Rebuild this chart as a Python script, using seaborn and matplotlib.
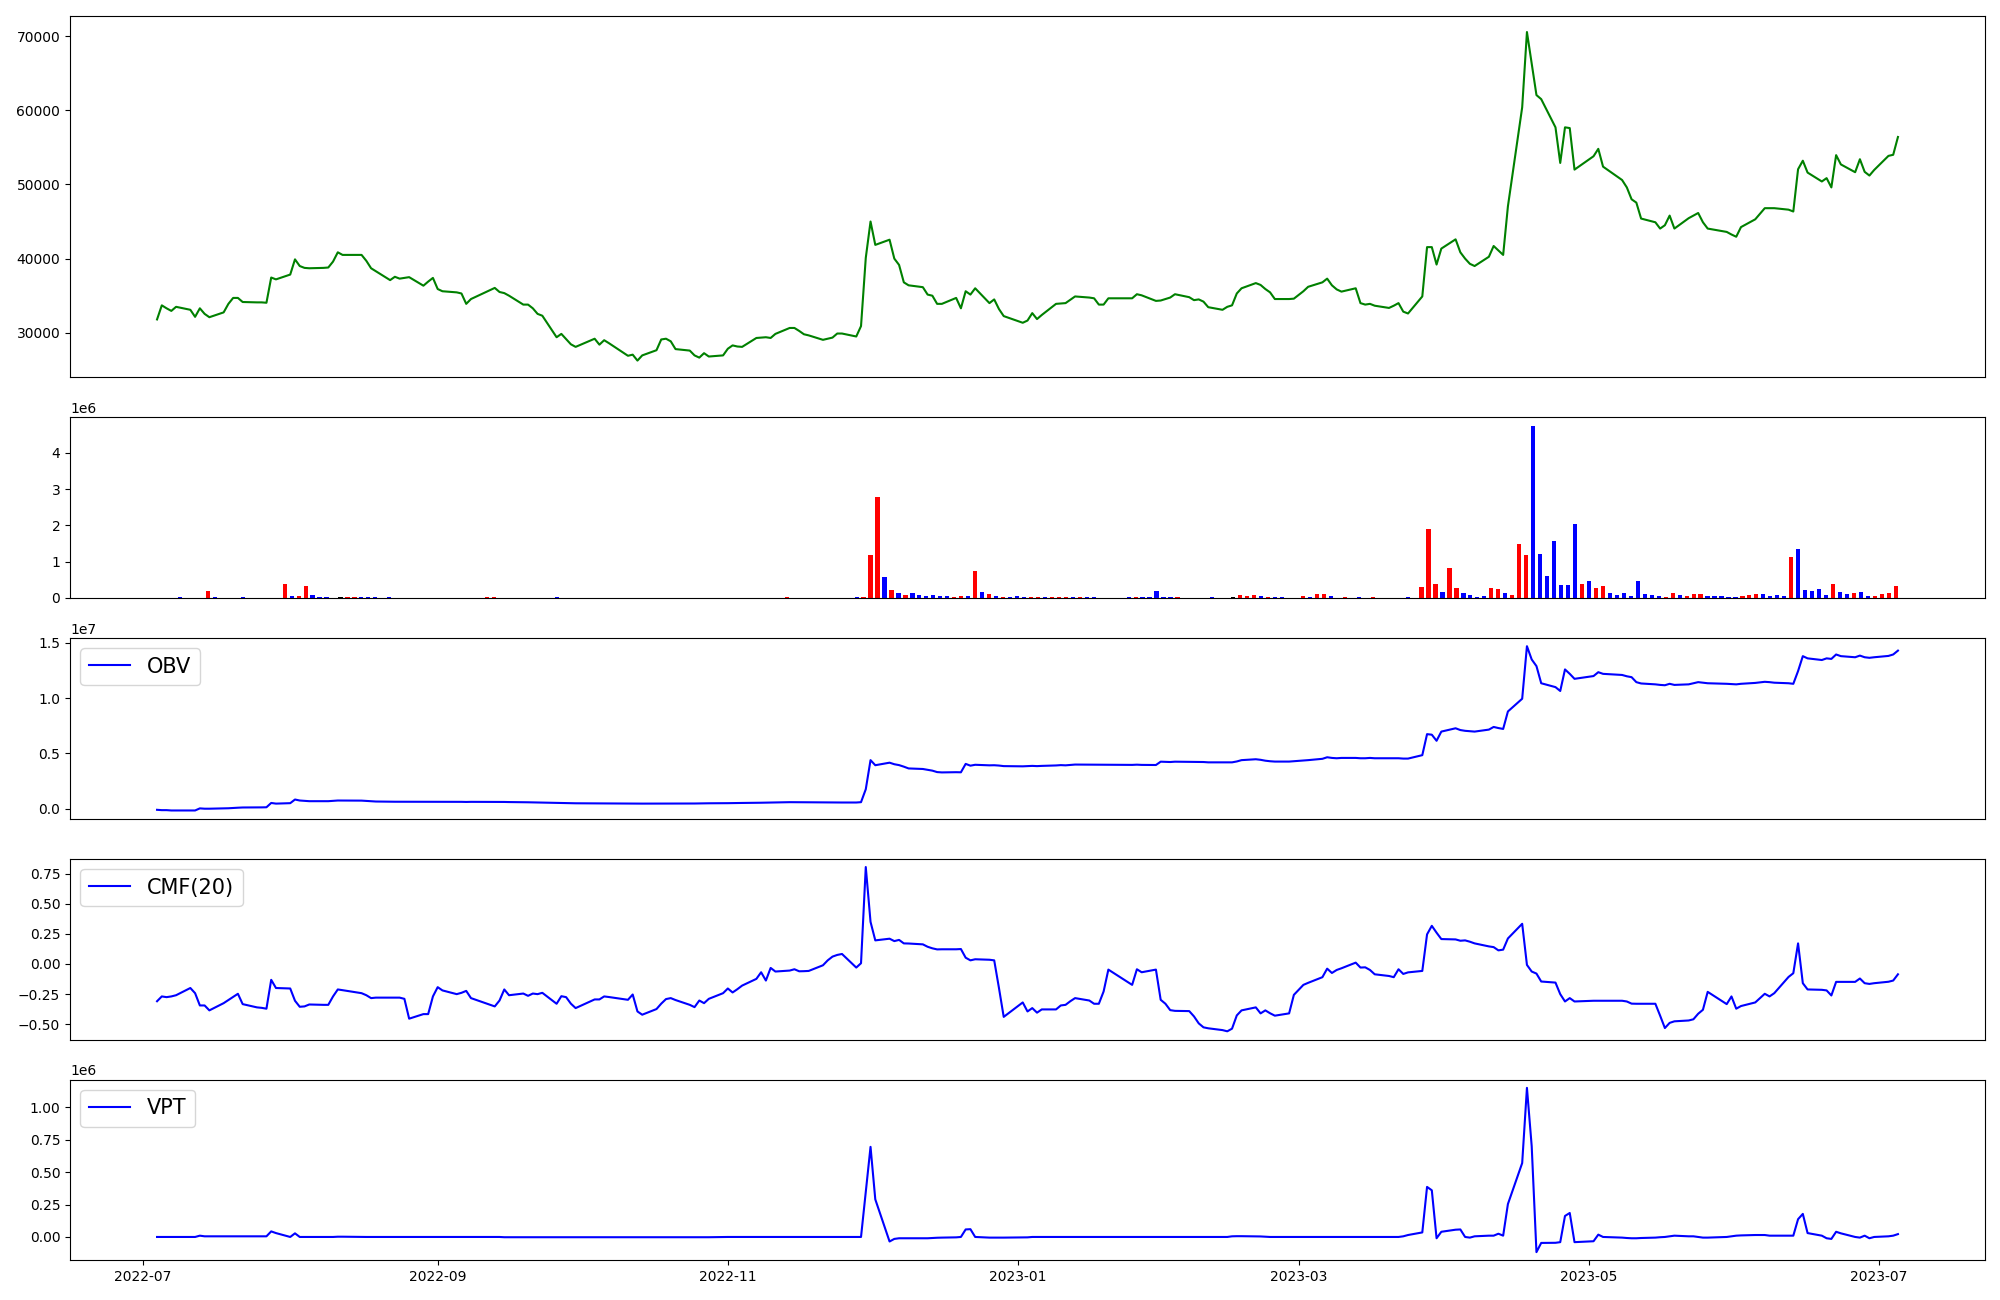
import matplotlib
matplotlib.use("Agg")
import matplotlib.pyplot as plt
from matplotlib.ticker import MultipleLocator
import seaborn as sns
import numpy as np
import pandas as pd

# KRX trading days, 2022-07-04 .. 2023-07-05
holidays = ["2022-08-15", "2022-09-09", "2022-09-12", "2022-10-03", "2022-10-10",
            "2022-12-30", "2023-01-23", "2023-01-24", "2023-03-01", "2023-05-01",
            "2023-05-05", "2023-05-29", "2023-06-06"]

close = [
    31800, 33700, 33300, 32950, 33500, 33100, 32150, 33300, 32550, 32100,
    32750, 33900, 34700, 34700, 34150, 34100, 34100, 34050, 37450, 37200,
    37850, 39900, 39000, 38750, 38700, 38750, 38800, 39600, 40850, 40500,
    40500, 39700, 38700, 38300, 37100, 37550, 37300, 37400, 37500, 36350,
    36900, 37400, 35900, 35600, 35450, 35300, 33900, 34550, 36050, 35500,
    35350, 35000, 33800, 33800, 33300, 32550, 32300, 29400, 29850, 29150,
    28450, 28100, 29200, 28400, 29000, 28600, 26900, 27050, 26250, 26950,
    27650, 29100, 29200, 28850, 27800, 27600, 26950, 26650, 27250, 26800,
    26950, 27850, 28300, 28150, 28100, 29300, 29350, 29400, 29300, 29850,
    30650, 30650, 30250, 29800, 29650, 29050, 29200, 29350, 29900, 29900,
    29500, 30900, 40100, 45000, 41850, 42550, 40000, 39150, 36800, 36400,
    36150, 35150, 35000, 33900, 33900, 34700, 33300, 35600, 35150, 36000,
    34000, 34500, 33200, 32250, 31350, 31650, 32650, 31850, 32400, 33900,
    33950, 34000, 34450, 34900, 34750, 34650, 33800, 33800, 34650, 34650,
    35200, 35050, 34300, 34350, 34550, 34750, 35200, 34800, 34400, 34500,
    34200, 33450, 33100, 33500, 33700, 35300, 36000, 36700, 36450, 35900,
    35450, 34550, 34550, 34600, 35600, 36200, 36800, 37300, 36400, 35850,
    35550, 36000, 34000, 33800, 33900, 33650, 33350, 33650, 34000, 32850,
    32600, 34900, 41550, 41550, 39200, 41350, 42600, 40850, 40000, 39300,
    39000, 40250, 41700, 41100, 40500, 47050, 60400, 70550, 66300, 62050,
    61500, 57700, 52900, 57700, 57600, 52000, 53800, 54800, 52400, 50600,
    49600, 48000, 47550, 45400, 44900, 44050, 44500, 45800, 44050, 45450,
    45800, 46150, 44900, 44050, 43600, 43250, 42950, 44250, 45300, 46800,
    46800, 46800, 46600, 46350, 52050, 53200, 51600, 50400, 50850, 49600,
    53950, 52700, 51650, 53400, 51700, 51200, 51950, 53850, 54000, 56400,
]

# volume in millions of shares
volume_m = [
    0, 0, 0, 0.025, 0, 0, 0, 0.19, 0.025, 0,
    0, 0, 0.025, 0, 0, 0, 0, 0, 0.39, 0.055,
    0.055, 0.33, 0.09, 0.025, 0.025, 0, 0.025, 0.025, 0.025, 0.025,
    0.025, 0.025, 0, 0.025, 0, 0, 0, 0, 0, 0,
    0, 0, 0, 0, 0, 0, 0, 0.025, 0.025, 0,
    0, 0, 0, 0, 0, 0, 0, 0.025, 0, 0,
    0, 0, 0, 0, 0, 0, 0, 0, 0, 0,
    0, 0, 0, 0, 0, 0, 0, 0, 0, 0,
    0, 0, 0, 0, 0, 0, 0, 0, 0, 0,
    0.025, 0, 0, 0, 0, 0, 0, 0, 0, 0,
    0.025, 0.025, 1.17, 2.78, 0.58, 0.22, 0.14, 0.08, 0.14, 0.08,
    0.055, 0.08, 0.055, 0.055, 0.025, 0.055, 0.055, 0.75, 0.17, 0.11,
    0.055, 0.025, 0.025, 0.055, 0.025, 0.025, 0.025, 0.025, 0.025, 0.025,
    0.025, 0.025, 0.025, 0.025, 0.025, 0, 0, 0, 0, 0.025,
    0.025, 0.025, 0.025, 0.19, 0.025, 0.025, 0.025, 0, 0, 0,
    0, 0.025, 0, 0, 0.025, 0.08, 0.055, 0.08, 0.055, 0.025,
    0.025, 0.025, 0, 0, 0.055, 0.025, 0.11, 0.11, 0.055, 0,
    0.025, 0, 0.025, 0, 0.025, 0, 0, 0, 0, 0.025,
    0, 0.31, 1.89, 0.39, 0.17, 0.83, 0.28, 0.14, 0.08, 0.025,
    0.055, 0.28, 0.25, 0.14, 0.08, 1.5, 1.19, 4.75, 1.22, 0.61,
    1.58, 0.36, 0.36, 2.03, 0.39, 0.47, 0.28, 0.33, 0.14, 0.08,
    0.14, 0.055, 0.47, 0.11, 0.08, 0.055, 0.025, 0.14, 0.08, 0.055,
    0.11, 0.11, 0.055, 0.055, 0.055, 0.025, 0.025, 0.055, 0.08, 0.11,
    0.11, 0.055, 0.08, 0.055, 1.14, 1.36, 0.22, 0.19, 0.25, 0.08,
    0.39, 0.17, 0.11, 0.14, 0.17, 0.055, 0.055, 0.11, 0.14, 0.33,
]

# candle direction: 1 up (red), -1 down (blue), 0 flat (black)
bar_dir = [
    0, 0, 0, -1, 0, 0, 0, 1, -1, 0,
    0, 0, -1, 0, 0, 0, 0, 0, 1, -1,
    1, 1, -1, -1, -1, 0, 0, 1, 1, -1,
    -1, -1, 0, -1, 0, 0, 0, 0, 0, 0,
    0, 0, 0, 0, 0, 0, 0, 1, 1, 0,
    0, 0, 0, 0, 0, 0, 0, -1, 0, 0,
    0, 0, 0, 0, 0, 0, 0, 0, 0, 0,
    0, 0, 0, 0, 0, 0, 0, 0, 0, 0,
    0, 0, 0, 0, 0, 0, 0, 0, 0, 0,
    1, 0, 0, 0, 0, 0, 0, 0, 0, 0,
    -1, 1, 1, 1, -1, 1, -1, 1, -1, -1,
    -1, -1, -1, -1, 1, 1, -1, 1, -1, 1,
    -1, 1, -1, -1, -1, 1, 1, -1, 1, 1,
    1, -1, 1, -1, -1, 0, 0, 0, 0, -1,
    1, -1, -1, -1, -1, -1, 1, 0, 0, 0,
    0, -1, 0, 0, 0, 1, 1, 1, -1, 1,
    -1, -1, 0, 0, 1, -1, 1, 1, -1, 0,
    1, 0, -1, 0, 1, 0, 0, 0, 0, -1,
    0, 1, 1, 1, -1, 1, 1, -1, -1, -1,
    -1, 1, 1, -1, 1, 1, 1, -1, -1, -1,
    -1, -1, -1, -1, 1, -1, 1, 1, -1, -1,
    -1, -1, -1, -1, -1, -1, 1, 1, -1, 1,
    1, 1, -1, -1, -1, -1, -1, 1, 1, 1,
    -1, -1, -1, -1, 1, -1, -1, -1, -1, -1,
    1, -1, -1, 1, -1, -1, 1, 1, 1, 1,
]

# on-balance volume, millions
obv_m = [
    -0.09, -0.12, -0.12, -0.15, -0.15, -0.15, -0.15, 0.04, 0.01, 0.01,
    0.04, 0.05, 0.08, 0.10, 0.12, 0.12, 0.13, 0.14, 0.53, 0.47,
    0.51, 0.84, 0.75, 0.72, 0.69, 0.69, 0.69, 0.72, 0.75, 0.75,
    0.74, 0.71, 0.69, 0.66, 0.64, 0.64, 0.64, 0.64, 0.63, 0.63,
    0.63, 0.63, 0.63, 0.63, 0.63, 0.63, 0.62, 0.63, 0.63, 0.62,
    0.62, 0.61, 0.60, 0.59, 0.58, 0.57, 0.56, 0.53, 0.52, 0.51,
    0.50, 0.50, 0.49, 0.49, 0.48, 0.48, 0.48, 0.48, 0.47, 0.47,
    0.47, 0.47, 0.48, 0.48, 0.48, 0.48, 0.48, 0.49, 0.50, 0.50,
    0.50, 0.51, 0.52, 0.52, 0.53, 0.54, 0.55, 0.56, 0.57, 0.57,
    0.60, 0.60, 0.60, 0.59, 0.59, 0.58, 0.58, 0.58, 0.57, 0.57,
    0.57, 0.60, 1.77, 4.40, 3.94, 4.17, 4.03, 3.95, 3.81, 3.65,
    3.60, 3.52, 3.45, 3.32, 3.29, 3.31, 3.30, 4.06, 3.90, 3.98,
    3.93, 3.94, 3.91, 3.86, 3.84, 3.86, 3.88, 3.86, 3.88, 3.92,
    3.95, 3.93, 3.97, 4.00, 3.99, 3.99, 3.98, 3.98, 3.98, 3.97,
    3.99, 3.97, 3.96, 4.26, 4.24, 4.23, 4.26, 4.25, 4.25, 4.24,
    4.23, 4.20, 4.20, 4.20, 4.20, 4.28, 4.40, 4.48, 4.43, 4.35,
    4.30, 4.27, 4.27, 4.30, 4.36, 4.40, 4.52, 4.66, 4.60, 4.57,
    4.60, 4.60, 4.57, 4.57, 4.60, 4.57, 4.57, 4.57, 4.57, 4.54,
    4.54, 4.85, 6.75, 6.70, 6.15, 6.98, 7.28, 7.12, 7.05, 7.01,
    6.98, 7.16, 7.40, 7.30, 7.22, 8.80, 9.95, 14.70, 13.50, 12.90,
    11.35, 11.00, 10.65, 12.60, 12.20, 11.75, 12.00, 12.35, 12.20, 12.10,
    11.98, 11.90, 11.45, 11.33, 11.25, 11.20, 11.17, 11.30, 11.20, 11.25,
    11.35, 11.45, 11.40, 11.35, 11.30, 11.27, 11.25, 11.30, 11.38, 11.48,
    11.45, 11.40, 11.35, 11.30, 12.45, 13.80, 13.60, 13.45, 13.60, 13.55,
    13.95, 13.80, 13.70, 13.85, 13.70, 13.65, 13.70, 13.82, 13.95, 14.30,
]

cmf20 = [
    -0.310, -0.270, -0.276, -0.270, -0.260, -0.200, -0.243, -0.345, -0.345, -0.386,
    -0.326, -0.300, -0.275, -0.248, -0.334, -0.361, -0.365, -0.372, -0.132, -0.200,
    -0.204, -0.306, -0.356, -0.353, -0.337, -0.340, -0.340, -0.270, -0.212, -0.218,
    -0.243, -0.260, -0.284, -0.280, -0.280, -0.280, -0.280, -0.290, -0.455, -0.417,
    -0.417, -0.270, -0.193, -0.220, -0.251, -0.240, -0.224, -0.284, -0.353, -0.304,
    -0.212, -0.260, -0.246, -0.265, -0.246, -0.251, -0.240, -0.331, -0.268, -0.276,
    -0.330, -0.367, -0.295, -0.295, -0.270, -0.275, -0.298, -0.254, -0.395, -0.422,
    -0.375, -0.330, -0.292, -0.284, -0.300, -0.340, -0.359, -0.304, -0.326, -0.290,
    -0.243, -0.204, -0.237, -0.210, -0.180, -0.124, -0.069, -0.138, -0.033, -0.063,
    -0.055, -0.044, -0.061, -0.060, -0.058, -0.011, 0.030, 0.061, 0.075, 0.083,
    -0.030, 0.006, 0.806, 0.350, 0.196, 0.210, 0.190, 0.200, 0.171, 0.170,
    0.163, 0.143, 0.130, 0.121, 0.122, 0.122, 0.124, 0.052, 0.030, 0.039,
    0.035, 0.030, -0.200, -0.440, -0.320, -0.395, -0.367, -0.405, -0.378, -0.378,
    -0.345, -0.340, -0.310, -0.284, -0.304, -0.331, -0.331, -0.229, -0.047, -0.174,
    -0.044, -0.069, -0.047, -0.298, -0.331, -0.384, -0.390, -0.392, -0.436, -0.494,
    -0.527, -0.535, -0.550, -0.560, -0.538, -0.428, -0.386, -0.361, -0.411, -0.386,
    -0.410, -0.430, -0.411, -0.257, -0.174, -0.157, -0.110, -0.039, -0.075, -0.050,
    -0.036, 0.011, -0.030, -0.028, -0.050, -0.086, -0.100, -0.110, -0.044, -0.083,
    -0.070, -0.058, 0.246, 0.317, 0.260, 0.207, 0.204, 0.193, 0.196, 0.185,
    0.171, 0.146, 0.140, 0.113, 0.119, 0.212, 0.334, -0.008, -0.063, -0.080,
    -0.146, -0.155, -0.251, -0.312, -0.284, -0.312, -0.306, -0.306, -0.306, -0.306,
    -0.312, -0.330, -0.331, -0.331, -0.331, -0.430, -0.533, -0.490, -0.477, -0.470,
    -0.460, -0.414, -0.381, -0.232, -0.334, -0.270, -0.372, -0.350, -0.320, -0.248,
    -0.270, -0.243, -0.108, -0.077, 0.171, -0.160, -0.212, -0.215, -0.220, -0.262,
    -0.149, -0.149, -0.149, -0.121, -0.160, -0.166, -0.160, -0.148, -0.138, -0.086,
]

# volume price trend, millions
vpt_m = [
    0.0, 0.0, 0.0, 0.0, 0.0, 0.0, 0.0, 0.01, 0.005, 0.005,
    0.005, 0.005, 0.005, 0.005, 0.005, 0.005, 0.005, 0.005, 0.043, 0.03,
    0.0, 0.028, 0.0, 0.0, 0.0, 0.0, 0.0, 0.0, 0.002, 0.002,
    0.0, 0.0, 0.0, 0.0, 0.0, 0.0, 0.0, 0.0, 0.0, 0.0,
    0.0, 0.0, 0.0, 0.0, 0.0, 0.0, 0.0, 0.0, 0.0, 0.0,
    -0.002, -0.002, -0.002, -0.002, -0.002, -0.002, -0.002, -0.002, -0.002, -0.002,
    -0.002, -0.002, -0.002, -0.002, -0.002, -0.002, -0.002, -0.002, -0.002, -0.002,
    -0.002, -0.002, -0.002, -0.002, -0.002, -0.002, -0.002, -0.002, -0.002, -0.002,
    0.0, 0.0, 0.0, 0.0, 0.0, 0.0, 0.0, 0.0, 0.0, 0.0,
    0.0, 0.0, 0.0, 0.0, 0.0, 0.0, 0.0, 0.0, 0.0, 0.0,
    0.0, 0.0, 0.35, 0.695, 0.29, -0.035, -0.015, -0.01, -0.01, -0.01,
    -0.01, -0.01, -0.008, -0.006, -0.005, -0.003, 0.0, 0.058, 0.06, 0.0,
    -0.005, -0.005, -0.005, -0.005, -0.003, -0.003, 0.0, 0.0, 0.0, 0.0,
    0.0, 0.0, 0.0, 0.0, 0.0, 0.0, 0.0, 0.0, 0.0, 0.0,
    0.0, 0.0, 0.0, 0.0, 0.0, 0.0, 0.0, 0.0, 0.0, 0.0,
    0.0, 0.0, 0.0, 0.0, 0.005, 0.006, 0.006, 0.005, 0.004, 0.002,
    0.0, 0.0, 0.0, 0.0, 0.0, 0.0, 0.0, 0.0, 0.0, 0.0,
    0.0, 0.0, 0.0, 0.0, 0.0, 0.0, 0.0, 0.0, 0.0, 0.005,
    0.015, 0.035, 0.386, 0.36, -0.01, 0.04, 0.056, 0.058, 0.0, -0.005,
    0.005, 0.01, 0.01, 0.025, 0.01, 0.254, 0.57, 1.15, 0.70, -0.117,
    -0.046, -0.045, -0.04, 0.162, 0.185, -0.04, -0.033, 0.018, 0.0, -0.005,
    -0.008, -0.01, -0.01, -0.008, -0.005, -0.002, 0.0, 0.005, 0.01, 0.005,
    0.005, 0.0, -0.005, -0.005, 0.0, 0.005, 0.01, 0.012, 0.015, 0.015,
    0.01, 0.01, 0.01, 0.01, 0.137, 0.178, 0.03, 0.01, -0.01, -0.015,
    0.04, 0.028, 0.0, -0.005, 0.01, -0.01, 0.0, 0.005, 0.01, 0.022,
]

dates = pd.bdate_range("2022-07-04", "2023-07-05")
dates = dates[~dates.isin(pd.to_datetime(holidays))]

df = pd.DataFrame({
    "date": dates,
    "close": close,
    "volume": np.array(volume_m) * 1e6,
    "obv": np.array(obv_m) * 1e6,
    "cmf": cmf20,
    "vpt": np.array(vpt_m) * 1e6,
})
dir_colors = {1: "red", -1: "blue", 0: "black"}
bar_colors = [dir_colors[d] for d in bar_dir]

fig = plt.figure(figsize=(20, 13), dpi=100)
gs = fig.add_gridspec(5, 1, height_ratios=[2, 1, 1, 1, 1], hspace=0.185,
                      left=0.035, right=0.9925, top=0.988, bottom=0.0305)
axes = [fig.add_subplot(gs[i]) for i in range(5)]

sns.lineplot(data=df, x="date", y="close", ax=axes[0], color="green")

axes[1].bar(np.arange(len(df)), df["volume"], width=0.6, color=bar_colors)

sns.lineplot(data=df, x="date", y="obv", ax=axes[2], color="blue", label="OBV")
sns.lineplot(data=df, x="date", y="cmf", ax=axes[3], color="blue", label="CMF(20)")
sns.lineplot(data=df, x="date", y="vpt", ax=axes[4], color="blue", label="VPT")
axes[3].yaxis.set_major_locator(MultipleLocator(0.25))

for ax in axes[2:]:
    ax.legend(loc="upper left", fontsize=15)

for ax in axes:
    ax.set_xlabel("")
    ax.set_ylabel("")
for ax in axes[:4]:
    ax.set_xticks([])

fig.savefig("out.png")
